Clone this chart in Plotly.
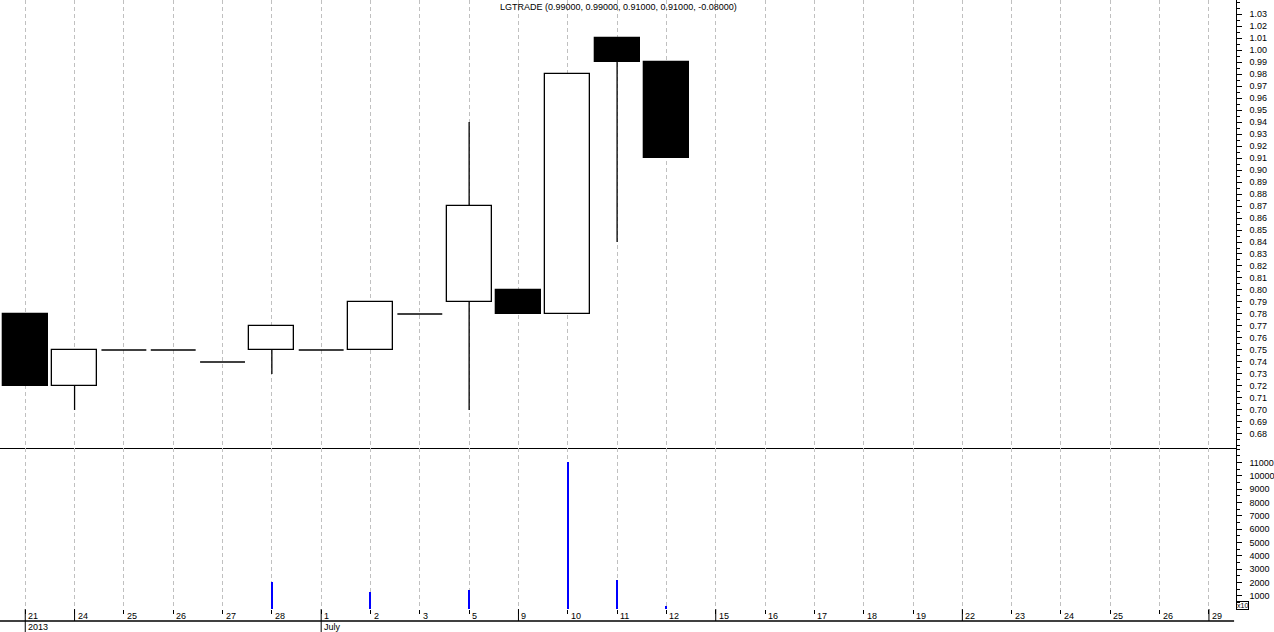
import plotly.graph_objects as go

# trading days shown on the axis (June/July 2013), incl. empty future slots
dates = ["21", "24", "25", "26", "27", "28", "1", "2", "3", "5", "9", "10", "11", "12",
         "15", "16", "17", "18", "19", "22", "23", "24", "25", "26", "29"]
week_start_idx = [1, 10, 14, 19, 24]
period_labels = {0: "2013", 6: "July"}

# OHLC for the days that have data
opens = [0.78, 0.72, 0.75, 0.75, 0.74, 0.75, 0.75, 0.75, 0.78, 0.79, 0.80, 0.78, 1.01, 0.99]
highs = [0.78, 0.75, 0.75, 0.75, 0.74, 0.77, 0.75, 0.79, 0.78, 0.94, 0.80, 0.98, 1.01, 0.99]
lows = [0.72, 0.70, 0.75, 0.75, 0.74, 0.73, 0.75, 0.75, 0.78, 0.70, 0.78, 0.78, 0.84, 0.91]
closes = [0.72, 0.75, 0.75, 0.75, 0.74, 0.77, 0.75, 0.79, 0.78, 0.87, 0.78, 0.98, 0.99, 0.91]
# volume in units of x10
volumes = [0, 0, 0, 0, 0, 2000, 0, 1250, 0, 1400, 0, 11070, 2200, 200]

price_ticks = ["0.68", "0.69", "0.70", "0.71", "0.72", "0.73", "0.74", "0.75", "0.76",
               "0.77", "0.78", "0.79", "0.80", "0.81", "0.82", "0.83", "0.84", "0.85",
               "0.86", "0.87", "0.88", "0.89", "0.90", "0.91", "0.92", "0.93", "0.94",
               "0.95", "0.96", "0.97", "0.98", "0.99", "1.00", "1.01", "1.02", "1.03"]
volume_ticks = [1000, 2000, 3000, 4000, 5000, 6000, 7000, 8000, 9000, 10000, 11000]

W, H = 1274, 632
FONT = "Arial"
BODY_W = 0.91


def py(px):
    # pixel row (from top) -> paper y
    return (H - px) / H


idx = list(range(len(closes)))
x_all = list(range(len(dates)))

# wicks, split so they never cross a body
wx, wy = [], []
flat_x, flat_y = [], []
body_x, body_base, body_len, body_col = [], [], [], []
for i, o, h, l, c in zip(idx, opens, highs, lows, closes):
    top, bot = max(o, c), min(o, c)
    if h > top:
        wx += [i, i, None]
        wy += [top, h, None]
    if l < bot:
        wx += [i, i, None]
        wy += [bot, l, None]
    if o == c:
        flat_x += [i - BODY_W / 2, i + BODY_W / 2, None]
        flat_y += [c, c, None]
    else:
        body_x.append(i)
        body_base.append(bot)
        body_len.append(top - bot)
        body_col.append("black" if c < o else "white")

fig = go.Figure()
fig.add_trace(go.Scatter(x=wx, y=wy, mode="lines", line=dict(color="black", width=1.3),
                         hoverinfo="skip", xaxis="x", yaxis="y"))
fig.add_trace(go.Scatter(x=flat_x, y=flat_y, mode="lines", line=dict(color="black", width=1.3),
                         hoverinfo="skip", xaxis="x", yaxis="y"))
fig.add_trace(go.Bar(x=body_x, y=body_len, base=body_base, width=BODY_W,
                     marker=dict(color=body_col, line=dict(color="black", width=1.3)),
                     xaxis="x", yaxis="y"))
fig.add_trace(go.Bar(x=idx, y=volumes, width=0.026, marker=dict(color="#0000ff", line=dict(width=0)),
                     xaxis="x2", yaxis="y2"))

x_dom_end = 1238.5 / W
x_range = [-0.512, 24.54]
grid = dict(showgrid=True, gridcolor="#c0c0c0", gridwidth=1, griddash="4px,3px",
            tickmode="array", tickvals=x_all, range=x_range, zeroline=False,
            showticklabels=False, domain=[0, x_dom_end], fixedrange=True)
yax = dict(side="right", showline=True, linecolor="black", linewidth=1, showgrid=False,
           zeroline=False, ticks="outside", ticklen=5, tickcolor="black",
           tickfont=dict(family=FONT, size=9, color="black"), ticklabelstandoff=6)

# change vs previous close for the header
chg = closes[-1] - closes[-2]
title = "LGTRADE ({:.5f}, {:.5f}, {:.5f}, {:.5f}, {:.5f})".format(
    opens[-1], highs[-1], lows[-1], closes[-1], chg)

annotations = [dict(text=title, x=619.5 / W, y=py(7), xref="paper", yref="paper",
                    showarrow=False, font=dict(family=FONT, size=9, color="black"),
                    xanchor="center", yanchor="middle")]
for i, d in enumerate(dates):
    annotations.append(dict(text=d, x=i, y=py(616), xref="x2", yref="paper", xanchor="left",
                            yanchor="middle", xshift=1, showarrow=False,
                            font=dict(family=FONT, size=9, color="black")))
for i, lab in period_labels.items():
    annotations.append(dict(text=lab, x=i, y=py(627), xref="x2", yref="paper", xanchor="left",
                            yanchor="middle", xshift=1, showarrow=False,
                            font=dict(family=FONT, size=9, color="black")))
annotations.append(dict(text="x10", x=x_dom_end, y=py(605), xref="paper", yref="paper",
                        xanchor="left", yanchor="middle", showarrow=False,
                        bordercolor="black", borderwidth=1, borderpad=0,
                        font=dict(family=FONT, size=7, color="black")))

shapes = [dict(type="line", xref="paper", yref="paper", x0=0, x1=1237 / W,
               y0=py(621), y1=py(621), line=dict(color="black", width=1.3))]
for i in week_start_idx:
    shapes.append(dict(type="line", xref="x2", yref="paper", x0=i, x1=i, y0=py(609), y1=py(621),
                       line=dict(color="black", width=1)))
for i in period_labels:
    shapes.append(dict(type="line", xref="x2", yref="paper", x0=i, x1=i, y0=py(609), y1=py(632),
                       line=dict(color="black", width=1)))

fig.update_layout(
    width=W, height=H, margin=dict(l=0, r=0, t=0, b=0),
    paper_bgcolor="white", plot_bgcolor="white", showlegend=False, bargap=0,
    xaxis=dict(**grid, anchor="y", showline=True, linecolor="black", linewidth=1.2, ticks=""),
    xaxis2=dict(**grid, anchor="y2", matches="x", showline=False, ticks="outside",
                ticklen=4, tickcolor="black"),
    yaxis=dict(**yax, domain=[py(448), 1], range=[0.6683, 1.0417],
               tickmode="array", tickvals=[float(t) for t in price_ticks], ticktext=price_ticks,
               minor=dict(dtick=0.005, tick0=0.68, ticks="outside", ticklen=3, tickcolor="black")),
    yaxis2=dict(**yax, domain=[py(609), py(448)], range=[0, 12100], anchor="x2",
                tickmode="array", tickvals=volume_ticks, ticktext=[str(v) for v in volume_ticks],
                minor=dict(dtick=500, tick0=0, ticks="outside", ticklen=3, tickcolor="black")),
    annotations=annotations, shapes=shapes,
)

fig.write_html("out.html", config={"displayModeBar": False},
               post_script="document.body.style.margin='0';")
